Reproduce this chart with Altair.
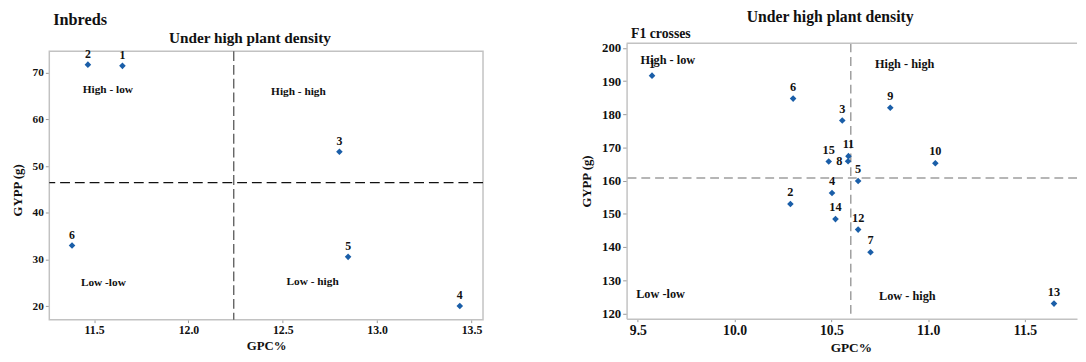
import altair as alt
import pandas as pd

# ---------------- Inbreds (left panel) ----------------
inb_id = ["1", "2", "3", "4", "5", "6"]
inb_gpc = [11.65, 11.467, 12.80, 13.438, 12.846, 11.383]
inb_gypp = [71.5, 71.75, 53.1, 20.06, 30.57, 33.0]
inb_mean_gpc = [12.24]
inb_mean_gypp = [46.5]
inb_x_ticks = [11.5, 12.0, 12.5, 13.0, 13.5]
inb_y_ticks = [20, 30, 40, 50, 60, 70]

quad_text = ["High - low", "High - high", "Low -low", "Low - high"]
inb_quad_gpc = [11.44, 12.438, 11.43, 12.52]
inb_quad_gypp = [66.4, 65.8, 24.95, 25.2]

# ---------------- F1 crosses (right panel) ----------------
f1_id = [str(i) for i in range(1, 16)]
f1_gpc = [9.573, 10.288, 10.556, 10.503, 10.638, 10.302, 10.702, 10.586,
          10.804, 11.037, 10.588, 10.638, 11.65, 10.521, 10.486]
f1_gypp = [191.66, 152.98, 178.13, 156.3, 159.9, 184.74, 138.43, 165.85,
           181.98, 165.26, 167.4, 145.26, 122.96, 148.43, 165.8]
f1_mean_gpc = [10.6]
f1_mean_gypp = [160.8]
f1_x_ticks = [9.5, 10.0, 10.5, 11.0, 11.5]
f1_y_ticks = [120, 130, 140, 150, 160, 170, 180, 190, 200]
f1_quad_gpc = [9.514, 10.725, 9.491, 10.746]
f1_quad_gypp = [196.5, 195.2, 125.8, 125.2]

title_main = "Under high plant density"
title_inb = "Inbreds"
title_f1 = "F1 crosses"

FONT = "Liberation Serif"
BLUE = "#1a5ea8"
FRAME = "#c2c2c2"
INK = "#111111"

LW, LH = 441, 281   # left plot area (frame starts 8px below its top)
RW, RH = 458, 280   # right plot area

# ---------------- left ----------------
inb_df = pd.DataFrame({"id": inb_id, "GPC": inb_gpc, "GYPP": inb_gypp})
inb_q = pd.DataFrame({"t": quad_text, "GPC": inb_quad_gpc, "GYPP": inb_quad_gypp})

lx = alt.X("GPC:Q", scale=alt.Scale(domain=[11.2625, 13.561], nice=False, zero=False),
           axis=alt.Axis(values=inb_x_ticks, format=".1f", title="GPC%", grid=False, domain=False,
                         tickSize=3, tickColor="#999999", labelPadding=2,
                         labelFont=FONT, labelFontWeight="bold", labelFontSize=12, labelColor=INK,
                         titleFont=FONT, titleFontWeight="bold", titleFontSize=13, titleColor=INK,
                         titlePadding=4))
ly = alt.Y("GYPP:Q", scale=alt.Scale(domain=[17.11, 76.32], nice=False, zero=False),
           axis=alt.Axis(values=inb_y_ticks, title="GYPP (g)", grid=False, domain=False,
                         tickSize=4, tickColor="#999999", labelPadding=2,
                         labelFont=FONT, labelFontWeight="bold", labelFontSize=11.5, labelColor=INK,
                         titleFont=FONT, titleFontWeight="bold", titleFontSize=13, titleColor=INK,
                         titlePadding=8, titleY=149))

one = pd.DataFrame({"t": [0]})
l_frame = alt.Chart(one).mark_rect(filled=False, stroke=FRAME, strokeWidth=1.5).encode(
    x=alt.value(0), x2=alt.value(LW), y=alt.value(8), y2=alt.value(LH))
l_pts = alt.Chart(inb_df).mark_point(shape="diamond", filled=True, size=45, color=BLUE, opacity=1).encode(x=lx, y=ly)
l_lab = alt.Chart(inb_df).mark_text(font=FONT, fontWeight="bold", fontSize=12, dy=-7, baseline="alphabetic",
                                    color=INK).encode(x=lx, y=ly, text="id:N")
l_q = alt.Chart(inb_q).mark_text(font=FONT, fontWeight="bold", fontSize=11.5, align="left", baseline="middle",
                                 color=INK).encode(x=lx, y=ly, text="t:N")
l_v = alt.Chart(pd.DataFrame({"GPC": inb_mean_gpc})).mark_rule(color="#555555", strokeDash=[10, 4],
                                                              strokeWidth=1.3).encode(
    x=lx, y=alt.value(8), y2=alt.value(LH))
l_h = alt.Chart(pd.DataFrame({"GYPP": inb_mean_gypp})).mark_rule(color=INK, strokeDash=[10, 5],
                                                                strokeWidth=1.3).encode(y=ly)
l_t1 = alt.Chart(pd.DataFrame({"t": [title_inb]})).mark_text(font=FONT, fontWeight="bold", fontSize=16.5, align="left",
                                                           baseline="alphabetic", color=INK).encode(
    text="t:N", x=alt.value(4), y=alt.value(-19))
l_t2 = alt.Chart(pd.DataFrame({"t": [title_main]})).mark_text(font=FONT, fontWeight="bold", fontSize=15.5, align="center",
                                                            baseline="alphabetic", color=INK).encode(
    text="t:N", x=alt.value(204), y=alt.value(0))

left = alt.layer(l_frame, l_v, l_h, l_q, l_pts, l_lab, l_t1, l_t2).properties(
    width=LW, height=LH, view=alt.ViewBackground(strokeWidth=0))

# ---------------- right ----------------
f1_df = pd.DataFrame({"id": f1_id, "GPC": f1_gpc, "GYPP": f1_gypp})
f1_q = pd.DataFrame({"t": quad_text, "GPC": f1_quad_gpc, "GYPP": f1_quad_gypp})

rx = alt.X("GPC:Q", scale=alt.Scale(domain=[9.4416, 11.769], nice=False, zero=False),
           axis=alt.Axis(values=f1_x_ticks, format=".1f", title="GPC%", grid=False, domain=True,
                         domainColor=FRAME, domainWidth=1.5,
                         tickSize=3, tickColor="#999999", labelPadding=2,
                         labelFont=FONT, labelFontWeight="bold", labelFontSize=14, labelColor=INK,
                         titleFont=FONT, titleFontWeight="bold", titleFontSize=13.5, titleColor=INK,
                         titlePadding=3, titleX=228))
ry = alt.Y("GYPP:Q", scale=alt.Scale(domain=[118.4, 201.4], nice=False, zero=False),
           axis=alt.Axis(values=f1_y_ticks, title="GYPP (g)", grid=False, domain=True,
                         domainColor=FRAME, domainWidth=1.5,
                         tickSize=4, tickColor="#999999", labelPadding=2,
                         labelFont=FONT, labelFontWeight="bold", labelFontSize=13, labelColor=INK,
                         titleFont=FONT, titleFontWeight="bold", titleFontSize=13, titleColor=INK,
                         titlePadding=8))

r_pts = alt.Chart(f1_df).mark_point(shape="diamond", filled=True, size=45, color=BLUE, opacity=1).encode(x=rx, y=ry)
r_lab = alt.Chart(f1_df).transform_filter(alt.datum.id != "8").mark_text(
    font=FONT, fontWeight="bold", fontSize=12.5, dy=-8, baseline="alphabetic", color=INK).encode(
    x=rx, y=ry, text="id:N")
r_lab8 = alt.Chart(f1_df).transform_filter(alt.datum.id == "8").mark_text(
    font=FONT, fontWeight="bold", fontSize=12.5, dx=-9, baseline="middle", color=INK).encode(
    x=rx, y=ry, text="id:N")
r_q = alt.Chart(f1_q).mark_text(font=FONT, fontWeight="bold", fontSize=12.5, align="left", baseline="middle",
                                color=INK).encode(x=rx, y=ry, text="t:N")
r_v = alt.Chart(pd.DataFrame({"GPC": f1_mean_gpc})).mark_rule(color="#9e9e9e", strokeDash=[9, 5],
                                                             strokeWidth=1.5).encode(x=rx)
r_h = alt.Chart(pd.DataFrame({"GYPP": f1_mean_gypp})).mark_rule(color="#9e9e9e", strokeDash=[9, 5],
                                                               strokeWidth=1.5).encode(y=ry)
r_top = alt.Chart(one).mark_rule(color=FRAME, strokeWidth=1.5).encode(
    x=alt.value(0), x2=alt.value(RW), y=alt.value(0))
r_t1 = alt.Chart(pd.DataFrame({"t": [title_main]})).mark_text(font=FONT, fontWeight="bold", fontSize=16, align="center",
                                                            baseline="alphabetic", color=INK).encode(
    text="t:N", x=alt.value(207), y=alt.value(-22))
r_t2 = alt.Chart(pd.DataFrame({"t": [title_f1]})).mark_text(font=FONT, fontWeight="bold", fontSize=14, align="left",
                                                          baseline="alphabetic", color=INK).encode(
    text="t:N", x=alt.value(4.5), y=alt.value(-5))

right = alt.layer(r_v, r_h, r_top, r_q, r_pts, r_lab, r_lab8, r_t1, r_t2).properties(
    width=RW, height=RH, view=alt.ViewBackground(strokeWidth=0))

chart = alt.hconcat(left, right, spacing=98).properties(
    padding={"left": 3, "top": -2, "right": 0, "bottom": 0}
).configure_view(strokeWidth=0)

chart.save("out.html", embed_options={"renderer": "svg", "actions": False})
